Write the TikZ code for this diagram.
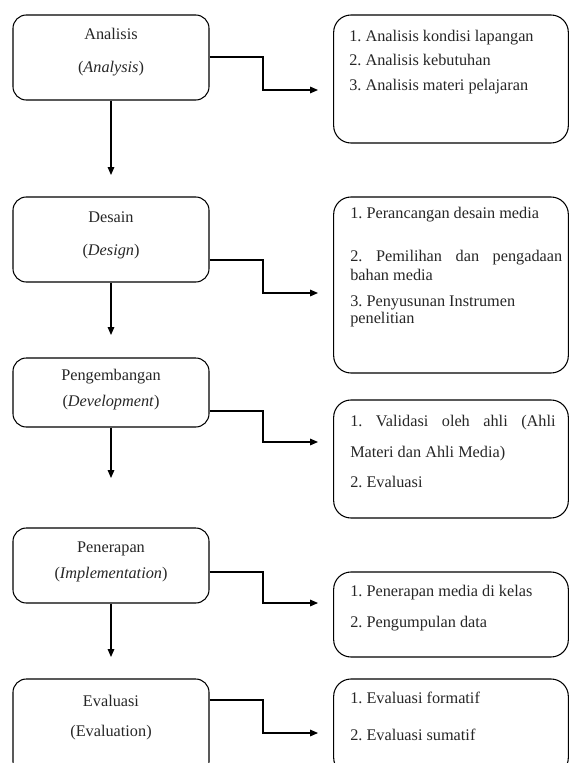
\documentclass[tikz,border=0pt]{standalone}
\usepackage{fontspec}
\setmainfont{Liberation Serif}
\usetikzlibrary{arrows.meta}
\frenchspacing
\begin{document}
\begin{tikzpicture}[x=0.75pt,y=-0.75pt,
  lbox/.style={draw=black,line width=0.8pt,rounded corners=10pt,minimum width=147pt,inner sep=0pt},
  rbox/.style={draw=black,line width=0.8pt,rounded corners=13pt,minimum width=176pt,inner sep=0pt},
  txt/.style={font=\fontsize{12.2}{14}\selectfont\frenchspacing,text=black!85,inner sep=0pt},
  lt/.style={txt,anchor=mid},
  rt/.style={txt,anchor=mid west},
  conn/.style={line width=0.8pt,-{Triangle[length=6pt,width=5pt]}},
  vconn/.style={line width=0.8pt,-{Triangle[length=6pt,width=5pt]}}]
\useasboundingbox (0,0) rectangle (569,763);
\clip (0,0) rectangle (569,763);
% left boxes
\node[lbox,minimum height=63.75pt] (A) at (111,57.5) {};
\node[lbox,minimum height=63.75pt] (D) at (111,239.5) {};
\node[lbox,minimum height=51.75pt] (P) at (111,392.5) {};
\node[lbox,minimum height=56.25pt] (I) at (111,565.5) {};
\node[lbox,minimum height=72pt] (E) at (111,727) {};
% right boxes
\node[rbox,minimum height=96pt] (RA) at (451,79) {};
\node[rbox,minimum height=132pt] (RD) at (451,285) {};
\node[rbox,minimum height=88.5pt] (RP) at (451,459) {};
\node[rbox,minimum height=63.75pt] (RI) at (451,614.5) {};
\node[rbox,minimum height=72pt] (RE) at (451,727) {};
% left texts
\node[lt] (tA1) at (111,36) {Analisis};
\node[lt] (tA2) at (111,69) {(\textit{Analysis})};
\node[lt] (tD1) at (111,219) {Desain};
\node[lt] (tD2) at (111,252) {(\textit{Design})};
\node[lt] (tP1) at (111,377) {Pengembangan};
\node[lt] (tP2) at (111,403) {(\textit{Development})};
\node[lt] (tI1) at (111,549) {Penerapan};
\node[lt] (tI2) at (111,575) {(\textit{Implementation})};
\node[lt] (tE1) at (111,703) {Evaluasi};
\node[lt] (tE2) at (111,733) {(Evaluation)};
% right texts
\node[rt] (a1) at (349,38) {1. Analisis kondisi lapangan};
\node[rt] (a2) at (349,62) {2. Analisis kebutuhan};
\node[rt] (a3) at (349,87) {3. Analisis materi pelajaran};
\node[rt] (d1) at (350,215) {1. Perancangan desain media};
\node[rt] (d2) at (350,258) {\makebox[159pt][s]{2. Pemilihan dan pengadaan}};
\node[rt] (d3) at (350,277) {bahan media};
\node[rt] (d4) at (350,303) {3. Penyusunan Instrumen};
\node[rt] (d5) at (350,320) {penelitian};
\node[rt] (p1) at (350,423) {\makebox[154pt][s]{1. Validasi oleh ahli (Ahli}};
\node[rt] (p2) at (350,454) {Materi dan Ahli Media)};
\node[rt] (p3) at (350,484) {2. Evaluasi};
\node[rt] (i1) at (350,593) {1. Penerapan media di kelas};
\node[rt] (i2) at (350,624) {2. Pengumpulan data};
\node[rt] (e1) at (350,700) {1. Evaluasi formatif};
\node[rt] (e2) at (350,737) {2. Evaluasi sumatif};
% arrow end coordinates
\coordinate (cA) at (318,90);
\coordinate (cD) at (318,293);
\coordinate (cP) at (318,442);
\coordinate (cI) at (318,603);
\coordinate (cE) at (318,733);
\coordinate (vA) at (111,175);
\coordinate (vD) at (111,335);
\coordinate (vP) at (111,478);
\coordinate (vI) at (111,657);
% connectors
\draw[conn] (A.east |- 0,57) -- (263,57) |- (cA);
\draw[conn] (D.east |- 0,260) -- (263,260) |- (cD);
\draw[conn] (P.east |- 0,411) -- (263,411) |- (cP);
\draw[conn] (I.east |- 0,572) -- (263,572) |- (cI);
\draw[conn] (E.east |- 0,700) -- (263,700) |- (cE);
\draw[vconn] (A.south) -- (vA);
\draw[vconn] (D.south) -- (vD);
\draw[vconn] (P.south) -- (vP);
\draw[vconn] (I.south) -- (vI);
\end{tikzpicture}
\end{document}
